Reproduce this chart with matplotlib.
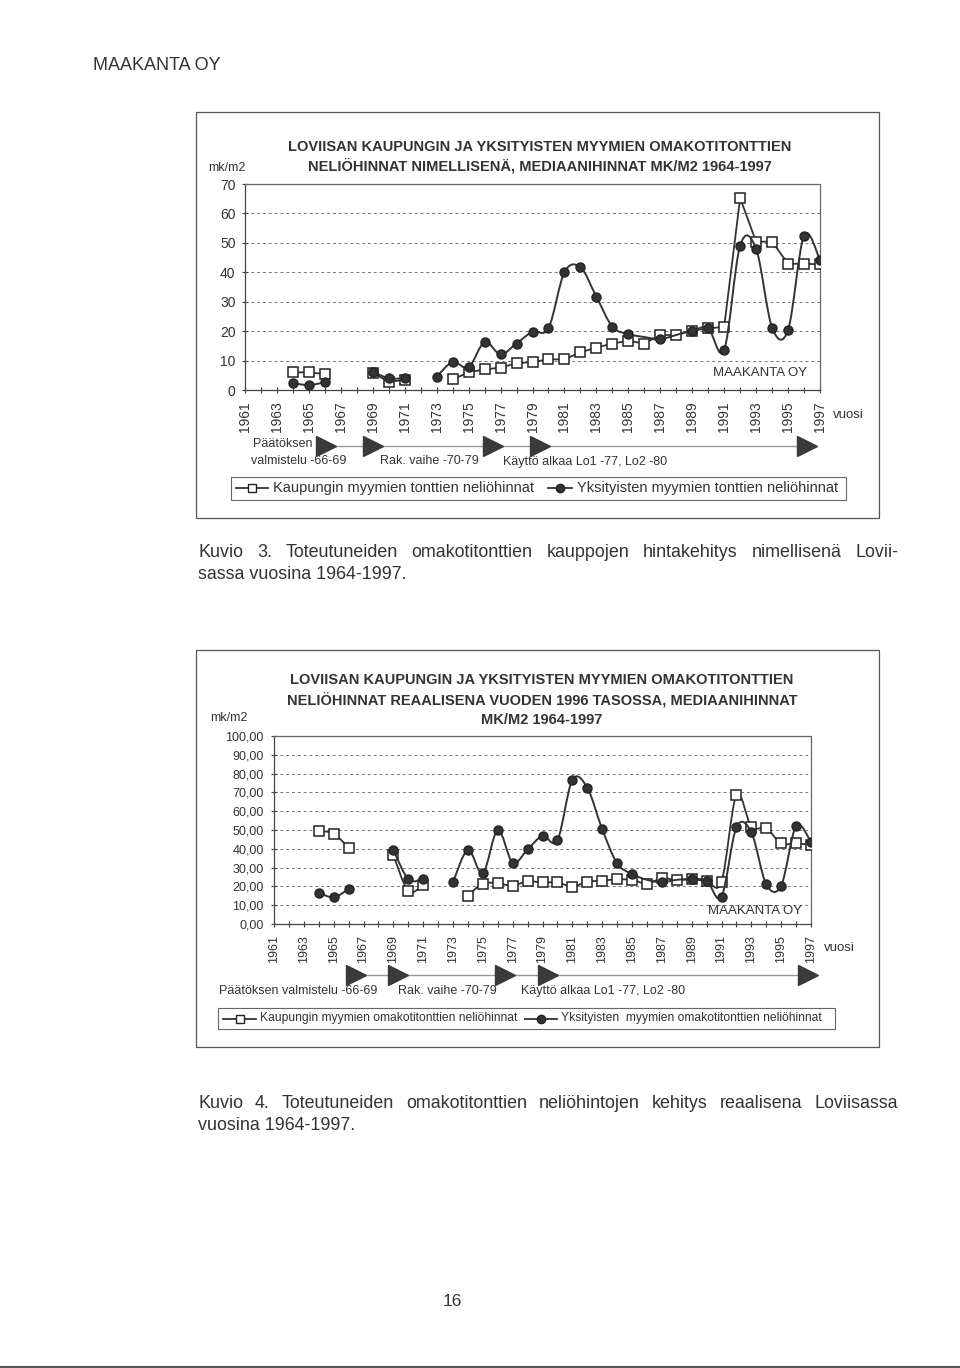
import matplotlib
matplotlib.use("Agg")
import matplotlib.pyplot as plt
import numpy as np
from matplotlib import font_manager
from matplotlib.path import Path
from matplotlib.patches import PathPatch, Rectangle
from matplotlib.lines import Line2D
from matplotlib.ticker import FuncFormatter
from matplotlib.transforms import blended_transform_factory

plt.rcParams['font.family'] = ['Liberation Sans', 'DejaVu Sans']
nimet = {f.name for f in font_manager.fontManager.ttflist}
KAPEA = 'Liberation Sans Narrow' if 'Liberation Sans Narrow' in nimet else 'Liberation Sans'

nan = np.nan
vuodet = list(range(1964, 1998))
akseli_vuodet = list(range(1961, 1998))

# Kuvio 3: nimelliset hinnat mk/m2
kaup_nim = [6.0, 6.0, 5.4, nan, nan, 5.8, 2.8, 3.4, nan, nan,
            3.6, 6.0, 7.0, 7.6, 9.1, 9.5, 10.4, 10.4, 12.8, 14.4,
            15.8, 16.7, 15.8, 18.7, 18.7, 20.2, 20.9, 21.5, 65.2, 50.4,
            50.4, 42.9, 42.9, 42.7]
yks_nim = [2.3, 1.7, 2.6, nan, nan, 6.2, 4.0, 4.0, nan, 4.5,
           9.5, 7.7, 16.3, 12.1, 15.8, 19.8, 21.0, 40.0, 41.7, 31.7,
           21.5, 19.0, 18.0, 17.3, 18.7, 20.2, 21.0, 13.6, 49.1, 48.0,
           21.2, 20.4, 52.5, 44.2]

# Kuvio 4: reaaliset hinnat vuoden 1996 tasossa
kaup_real = [49.5, 48.0, 40.6, nan, nan, 36.7, 17.6, 20.7, nan, nan,
             15.1, 21.5, 21.6, 20.4, 22.7, 22.1, 22.1, 19.9, 22.5, 23.0,
             23.8, 23.4, 21.5, 24.3, 23.4, 23.8, 22.9, 22.5, 68.6, 51.8,
             50.9, 42.9, 42.9, 42.0]
yks_real = [16.7, 14.2, 18.6, nan, nan, 39.4, 23.9, 23.7, nan, 22.2,
            39.4, 27.0, 50.0, 32.6, 39.7, 46.8, 44.5, 76.6, 72.5, 50.5,
            32.3, 26.6, 23.5, 22.2, 23.5, 23.8, 23.0, 14.5, 51.4, 48.8,
            21.1, 20.4, 52.1, 43.6]
piilotetut = [1986, 1988]   # viiva kulkee, merkki ei nay

vaihe_nuolet_1 = [1966.1, 1969.0, 1976.5, 1979.5, 1996.2]
vaihe_nuolet_2 = [1966.5, 1969.3, 1976.5, 1979.4, 1996.8]

W, H = 960, 1368
fig = plt.figure(figsize=(W / 100, H / 100), dpi=100)
fig.patch.set_facecolor('white')
TXT = '#333333'
LINE = '#333333'


def fx(x):
    return x / W


def fy(y):
    return 1 - y / H


def teksti(x, y, s, **kw):
    kw.setdefault('color', TXT)
    kw.setdefault('va', 'center')
    return fig.text(fx(x), fy(y), s, **kw)


def tasattu(x0, x1, y, s, **kw):
    # tasattu rivi: sanat levitetaan x0..x1 valille
    sanat = s.split()
    r = fig.canvas.get_renderer()
    tekstit = [teksti(0, y, w, **kw) for w in sanat]
    lev = [t.get_window_extent(r).width for t in tekstit]
    vali = (x1 - x0 - sum(lev)) / (len(sanat) - 1)
    x = x0
    for t, w in zip(tekstit, lev):
        t.set_x(fx(x))
        x += w + vali


def laatikko(l, t, r, b, lw=0.9, ec='#555555'):
    fig.add_artist(Rectangle((fx(l), fy(b)), (r - l) / W, (b - t) / H,
                             transform=fig.transFigure, fill=False, ec=ec, lw=lw))


def pehmea_polku(x, y):
    verts, codes = [], []
    x = np.asarray(x, float)
    y = np.asarray(y, float)
    ok = ~np.isnan(y)
    i = 0
    n = len(x)
    while i < n:
        if not ok[i]:
            i += 1
            continue
        j = i
        while j + 1 < n and ok[j + 1]:
            j += 1
        p = np.column_stack([x[i:j + 1], y[i:j + 1]])
        if len(p) > 1:
            verts.append(p[0])
            codes.append(Path.MOVETO)
            m = len(p)
            for k in range(m - 1):
                a = p[k - 1] if k > 0 else p[k]
                d = p[k + 2] if k + 2 < m else p[k + 1]
                c1 = p[k] + (p[k + 1] - a) / 6
                c2 = p[k + 1] - (d - p[k]) / 6
                verts += [c1, c2, p[k + 1]]
                codes += [Path.CURVE4] * 3
        i = j + 1
    return Path(verts, codes)


def kaavio(rect_px, ymax, ystep, kaup, yks, fmt, ylab_size, xlab_size, ypad, xpad,
           kaup_pehmea=False):
    l, t, r, b = rect_px
    ax = fig.add_axes([fx(l), fy(b), (r - l) / W, (b - t) / H])
    ax.set_xlim(1961, 1997)
    ax.set_ylim(0, ymax)
    ax.set_facecolor('none')
    ax.set_yticks(np.arange(0, ymax + ystep / 2, ystep))
    ax.yaxis.set_major_formatter(FuncFormatter(fmt))
    ax.set_xticks(akseli_vuodet)
    ax.set_xticklabels([str(v) if v % 2 else '' for v in akseli_vuodet])
    ax.yaxis.grid(True, linestyle=(0, (3, 3)), color='#777777', lw=0.7)
    ax.set_axisbelow(True)
    for s in ('left', 'bottom'):
        ax.spines[s].set_color('#444444')
        ax.spines[s].set_linewidth(0.9)
    for s in ('top', 'right'):
        ax.spines[s].set_color('#666666')
        ax.spines[s].set_linewidth(0.9)
        ax.spines[s].set_linestyle((0, (1, 1)))
    ax.tick_params(axis='x', direction='inout', length=4.5, width=0.8, color='#444444',
                   labelsize=xlab_size, labelcolor=TXT, labelrotation=90, pad=xpad)
    ax.tick_params(axis='y', direction='inout', length=4.5, width=0.8, color='#444444',
                   labelsize=ylab_size, labelcolor=TXT, pad=ypad)

    if kaup_pehmea:
        ax.add_patch(PathPatch(pehmea_polku(vuodet, kaup), fill=False, ec=LINE, lw=1.3, zorder=3))
        ax.plot(vuodet, kaup, ls='none', marker='s', ms=6.5, mfc='white',
                mec='#222222', mew=1.1, zorder=3)
    else:
        ax.plot(vuodet, kaup, color=LINE, lw=1.3, marker='s', ms=6.5, mfc='white',
                mec='#222222', mew=1.1, zorder=3)
    ax.add_patch(PathPatch(pehmea_polku(vuodet, yks), fill=False, ec=LINE, lw=1.4, zorder=4))
    nakyvat = [np.nan if v in piilotetut else a for v, a in zip(vuodet, yks)]
    ax.plot(vuodet, nakyvat, ls='none', marker='o', ms=6.5, mfc='#333333',
            mec='#222222', zorder=5)
    return ax


def nuolet(ax, y_px, kohdat):
    tr = blended_transform_factory(ax.transData, fig.transFigure)
    ax.plot([kohdat[0], kohdat[-1]], [fy(y_px)] * 2, transform=tr, color='#999999',
            lw=1.0, clip_on=False, zorder=1)
    ax.plot(kohdat, [fy(y_px)] * len(kohdat), transform=tr, ls='none', marker='>',
            ms=14, color='#3a3a3a', clip_on=False, zorder=2)


def selite(l, t, r, b, osat, fs, family):
    laatikko(l, t, r, b, lw=0.8, ec='#666666')
    yc = (t + b) / 2
    for h0, h1, mk, mfc, tx, label in osat:
        fig.add_artist(Line2D([fx(h0), fx(h1)], [fy(yc)] * 2, transform=fig.transFigure,
                              color=LINE, lw=1.3))
        fig.add_artist(Line2D([fx((h0 + h1) / 2)], [fy(yc)], transform=fig.transFigure,
                              marker=mk, ms=6, mfc=mfc, mec='#222222', mew=1.0, ls='none'))
        teksti(tx, yc, label, fontsize=fs, family=family)


# --- sivun yläosa ---
teksti(93, 66, 'MAAKANTA OY', fontsize=13)

# --- Kuvio 3 ---
laatikko(196, 112, 879, 518)
teksti(540, 147, 'LOVIISAN KAUPUNGIN JA YKSITYISTEN MYYMIEN OMAKOTITONTTIEN',
       fontsize=10.5, weight='bold', ha='center')
teksti(540, 166, 'NELIÖHINNAT NIMELLISENÄ, MEDIAANIHINNAT MK/M2 1964-1997',
       fontsize=10.5, weight='bold', ha='center')
teksti(208, 168, 'mk/m2', fontsize=9)
ax1 = kaavio((245, 184, 820, 390), 70, 10, kaup_nim, yks_nim,
             lambda v, p: f'{v:.0f}', 10, 10, 4.5, 6.0)
teksti(833, 415, 'vuosi', fontsize=9.5)
teksti(713, 373, 'MAAKANTA OY', fontsize=9.5)
nuolet(ax1, 446, vaihe_nuolet_1)
teksti(253, 444, 'Päätöksen', fontsize=9)
teksti(251, 461, 'valmistelu -66-69', fontsize=9)
teksti(380, 461, 'Rak. vaihe -70-79', fontsize=9)
teksti(503, 462, 'Käyttö alkaa Lo1 -77, Lo2 -80', fontsize=9)
selite(231, 477, 846, 500,
       [(236, 268, 's', 'white', 273, 'Kaupungin myymien tonttien neliöhinnat'),
        (548, 572, 'o', '#333333', 577, 'Yksityisten myymien tonttien neliöhinnat')],
       10.5, 'Liberation Sans')

tasattu(198, 898, 553, 'Kuvio 3. Toteutuneiden omakotitonttien kauppojen hintakehitys nimellisenä Lovii-',
        fontsize=12.9)
teksti(198, 575, 'sassa vuosina 1964-1997.', fontsize=12.9)

# --- Kuvio 4 ---
laatikko(196, 650, 879, 1047)
teksti(542, 680, 'LOVIISAN KAUPUNGIN JA YKSITYISTEN MYYMIEN OMAKOTITONTTIEN',
       fontsize=10.5, weight='bold', ha='center')
teksti(542, 700, 'NELIÖHINNAT REAALISENA VUODEN 1996 TASOSSA, MEDIAANIHINNAT',
       fontsize=10.5, weight='bold', ha='center')
teksti(542, 720, 'MK/M2 1964-1997', fontsize=10.5, weight='bold', ha='center')
teksti(210, 718, 'mk/m2', fontsize=9)
ax2 = kaavio((274, 736, 811, 924), 100, 10, kaup_real, yks_real,
             lambda v, p: f'{v:.2f}'.replace('.', ','), 9, 9, 5.0, 5.5, kaup_pehmea=True)
teksti(824, 948, 'vuosi', fontsize=9.5)
teksti(708, 911, 'MAAKANTA OY', fontsize=9.5)
nuolet(ax2, 975, vaihe_nuolet_2)
teksti(219, 991, 'Päätöksen valmistelu -66-69', fontsize=9)
teksti(398, 991, 'Rak. vaihe -70-79', fontsize=9)
teksti(521, 991, 'Käyttö alkaa Lo1 -77, Lo2 -80', fontsize=9)
fs2 = 10.5 if KAPEA != 'Liberation Sans' else 8.7
selite(218, 1008, 835, 1029,
       [(223, 256, 's', 'white', 260, 'Kaupungin myymien omakotitonttien neliöhinnat'),
        (525, 557, 'o', '#333333', 561, 'Yksityisten  myymien omakotitonttien neliöhinnat')],
       fs2, KAPEA)

tasattu(198, 898, 1104, 'Kuvio 4. Toteutuneiden omakotitonttien neliöhintojen kehitys reaalisena Loviisassa',
        fontsize=12.9)
teksti(198, 1126, 'vuosina 1964-1997.', fontsize=12.9)

teksti(452, 1302, '16', fontsize=12.5, ha='center')
fig.add_artist(Line2D([0, 1], [fy(1367)] * 2, transform=fig.transFigure, color='#555555', lw=1.5))

fig.savefig('out.png', dpi=100, facecolor='white')
